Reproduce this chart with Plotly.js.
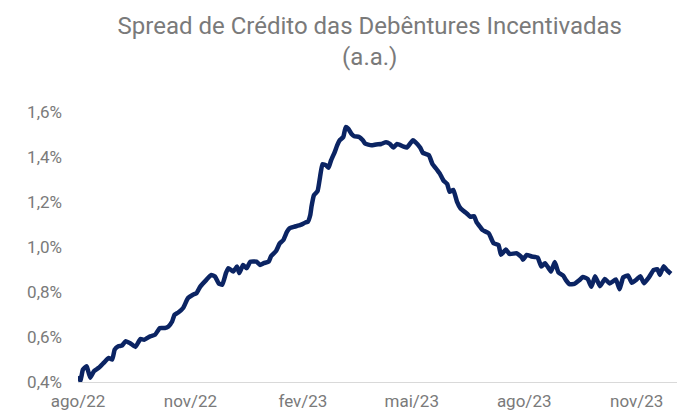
<!DOCTYPE html>
<html>
<head>
<meta charset="utf-8">
<script src="https://cdn.plot.ly/plotly-3.0.1.min.js"></script>
<style>html,body{margin:0;padding:0;background:#fff;}#chart{width:681px;height:414px;}</style>
</head>
<body>
<div id="chart"></div>
<script>
const dates = [
"2022-08-01","2022-08-03","2022-08-05","2022-08-08","2022-08-09","2022-08-11","2022-08-14","2022-08-18","2022-08-22","2022-08-26",
"2022-08-29","2022-08-31","2022-09-03","2022-09-06","2022-09-09","2022-09-13","2022-09-17","2022-09-21","2022-09-24","2022-09-29",
"2022-10-03","2022-10-07","2022-10-11","2022-10-14","2022-10-17","2022-10-19","2022-10-22","2022-10-26","2022-10-30","2022-11-03",
"2022-11-06","2022-11-09","2022-11-14","2022-11-18","2022-11-21","2022-11-24","2022-11-27","2022-11-30","2022-12-02","2022-12-06",
"2022-12-09","2022-12-11","2022-12-14","2022-12-17","2022-12-20","2022-12-25","2022-12-28","2022-12-31","2023-01-04","2023-01-06",
"2023-01-10","2023-01-13","2023-01-16","2023-01-19","2023-01-21","2023-01-25","2023-01-30","2023-02-03","2023-02-05","2023-02-07",
"2023-02-08","2023-02-10","2023-02-13","2023-02-15","2023-02-17","2023-02-20","2023-02-22","2023-02-24","2023-02-27","2023-03-01",
"2023-03-03","2023-03-06","2023-03-08","2023-03-10","2023-03-13","2023-03-15","2023-03-19","2023-03-22","2023-03-24","2023-03-29",
"2023-04-02","2023-04-06","2023-04-10","2023-04-13","2023-04-16","2023-04-19","2023-04-24","2023-04-27","2023-04-30","2023-05-02",
"2023-05-04","2023-05-08","2023-05-10","2023-05-15","2023-05-18","2023-05-22","2023-05-24","2023-05-27","2023-05-30","2023-06-01",
"2023-06-04","2023-06-07","2023-06-10","2023-06-15","2023-06-18","2023-06-21","2023-06-23","2023-06-26","2023-06-28","2023-07-03",
"2023-07-07","2023-07-11","2023-07-13","2023-07-17","2023-07-20","2023-07-26","2023-07-30","2023-07-31","2023-08-03","2023-08-07",
"2023-08-12","2023-08-15","2023-08-18","2023-08-21","2023-08-23","2023-08-26","2023-08-29","2023-09-02","2023-09-04","2023-09-07",
"2023-09-11","2023-09-15","2023-09-18","2023-09-22","2023-09-25","2023-09-28","2023-10-02","2023-10-06","2023-10-10","2023-10-15",
"2023-10-18","2023-10-21","2023-10-25","2023-10-28","2023-11-01","2023-11-04","2023-11-07","2023-11-11","2023-11-15","2023-11-18",
"2023-11-20","2023-11-23","2023-11-26","2023-11-29"
];
const spread = [
0.426,0.404,0.455,0.470,0.455,0.419,0.448,0.463,0.485,0.507,
0.500,0.544,0.559,0.562,0.581,0.571,0.556,0.591,0.588,0.603,
0.610,0.640,0.640,0.647,0.669,0.699,0.709,0.729,0.773,0.788,
0.795,0.824,0.854,0.876,0.869,0.839,0.832,0.884,0.906,0.891,
0.913,0.884,0.920,0.906,0.935,0.935,0.920,0.928,0.935,0.960,
0.982,1.016,1.031,1.068,1.083,1.090,1.098,1.109,1.112,1.142,
1.179,1.230,1.249,1.311,1.368,1.363,1.352,1.385,1.422,1.452,
1.474,1.489,1.533,1.526,1.501,1.492,1.489,1.474,1.459,1.452,
1.456,1.458,1.466,1.459,1.442,1.458,1.447,1.442,1.462,1.474,
1.466,1.441,1.419,1.408,1.368,1.341,1.326,1.295,1.280,1.245,
1.254,1.202,1.171,1.149,1.134,1.137,1.111,1.089,1.075,1.061,
1.016,1.009,0.965,0.989,0.969,0.972,0.954,0.943,0.965,0.958,
0.953,0.913,0.928,0.906,0.891,0.933,0.887,0.872,0.854,0.835,
0.836,0.852,0.867,0.857,0.823,0.870,0.826,0.858,0.838,0.856,
0.812,0.865,0.873,0.841,0.856,0.870,0.839,0.865,0.898,0.901,
0.876,0.914,0.896,0.881
];
const xTickVals = ["2022-08-01","2022-11-01","2023-02-01","2023-05-01","2023-08-01","2023-11-01"];
const xTickText = ["ago/22","nov/22","fev/23","mai/23","ago/23","nov/23"];
const yTickVals = [0.4,0.6,0.8,1.0,1.2,1.4,1.6];
const yTickText = ["0,4%","0,6%","0,8%","1,0%","1,2%","1,4%","1,6%"];

const gray = "#7a7a7a";
const fontFam = "Roboto, 'Open Sans', sans-serif";

Plotly.newPlot("chart", [{
  x: dates, y: spread, type: "scatter", mode: "lines",
  line: {color: "#0b2463", width: 4.5, shape: "spline", smoothing: 0.4},
  hoverinfo: "skip"
}], {
  width: 681, height: 414,
  margin: {l: 78, r: 4, t: 112, b: 32},
  paper_bgcolor: "#fff", plot_bgcolor: "#fff",
  showlegend: false,
  font: {family: fontFam, color: gray, size: 17},
  title: {
    text: "Spread de Crédito das Debêntures Incentivadas<br>(a.a.)",
    font: {family: fontFam, size: 24, color: gray},
    x: 0.543, xref: "container", xanchor: "center",
    y: 0.918, yref: "container", yanchor: "top"
  },
  xaxis: {
    type: "date",
    range: ["2022-08-01", "2023-12-04"],
    tickvals: xTickVals, ticktext: xTickText,
    showgrid: false, zeroline: false,
    showline: true, linecolor: "#d9d9d9", linewidth: 1,
    ticks: "", ticklabelstandoff: 4,
    tickfont: {size: 17, color: gray}
  },
  yaxis: {
    range: [0.4, 1.6],
    tickvals: yTickVals, ticktext: yTickText,
    showgrid: false, zeroline: false, showline: false,
    ticks: "", ticklabelstandoff: 15,
    tickfont: {size: 17, color: gray}
  }
}, {displayModeBar: false, staticPlot: true});
</script>
</body>
</html>
